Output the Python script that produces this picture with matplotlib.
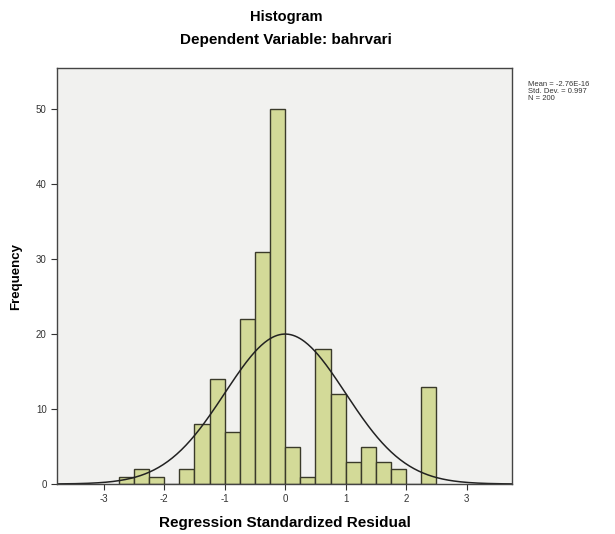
import numpy as np
import matplotlib
matplotlib.use("Agg")
import matplotlib.pyplot as plt

plt.rcParams["font.family"] = ["Liberation Sans", "DejaVu Sans"]

# histogram of standardized residuals, bins of width 0.25
bin_edges = np.arange(-2.75, 2.5001, 0.25)
counts = [1, 2, 1, 0, 2, 8, 14, 7, 22, 31, 50, 5, 1, 18, 12, 3, 5, 3, 2, 0, 13]
mean, std, n = 0.0, 0.997, 200
xticks = [-3, -2, -1, 0, 1, 2, 3]
yticks = [0, 10, 20, 30, 40, 50]

fig = plt.figure(figsize=(6.15, 5.34), dpi=100)
ax = fig.add_axes([0.0927, 0.0936, 0.74, 0.779])
ax.set_facecolor("#f1f1ef")

ax.bar(bin_edges[:-1], counts, width=np.diff(bin_edges), align="edge",
       color="#d3da98", edgecolor="#3a3a2a", linewidth=1.0)

bw = bin_edges[1] - bin_edges[0]
x = np.linspace(-3.77, 3.75, 400)
y = n * bw / (std * np.sqrt(2 * np.pi)) * np.exp(-0.5 * ((x - mean) / std) ** 2)
ax.plot(x, y, color="#222222", linewidth=1.1)

ax.set_xlim(-3.77, 3.75)
ax.set_ylim(0, 55.5)
ax.set_xticks(xticks)
ax.set_xticklabels([str(t) for t in xticks])
ax.set_yticks(yticks)
ax.tick_params(labelsize=7, length=4, width=0.8, color="#333333", labelcolor="#333333")
for s in ax.spines.values():
    s.set_color("#444444")
    s.set_linewidth(1.0)

ax.set_xlabel("Regression Standardized Residual", fontsize=11, fontweight="bold", labelpad=8)
ax.set_ylabel("Frequency", fontsize=9.5, fontweight="bold", labelpad=10)

fig.text(0.465, 0.968, "Histogram", ha="center", va="center", fontsize=10.5, fontweight="bold")
fig.text(0.465, 0.925, "Dependent Variable: bahrvari", ha="center", va="center",
         fontsize=11, fontweight="bold")
fig.text(0.858, 0.848, "Mean = -2.76E-16\nStd. Dev. = 0.997\nN = 200",
         ha="left", va="top", fontsize=5.5, linespacing=0.95, color="#333333")

fig.savefig("out.png", dpi=100)
